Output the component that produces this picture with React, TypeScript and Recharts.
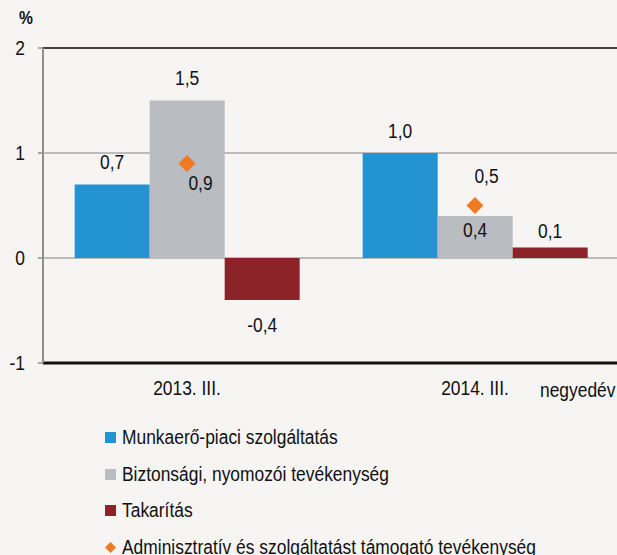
import React from 'react'
import {
  ComposedChart, Bar, Scatter, XAxis, YAxis, CartesianGrid, ReferenceLine, LabelList,
} from 'recharts'

const categories = ['2013. III.', '2014. III.']
const munkaero = [0.7, 1.0]
const biztonsagi = [1.5, 0.4]
const takaritas = [-0.4, 0.1]
const adminisztrativ = [0.9, 0.5]
const yTicks = [-1, 0, 1, 2]

const seriesNames = [
  'Munkaerő-piaci szolgáltatás',
  'Biztonsági, nyomozói tevékenység',
  'Takarítás',
  'Adminisztratív és szolgáltatást támogató tevékenység',
]

const BLUE = '#2393d2'
const GRAY = '#b9bdc1'
const RED = '#8b2328'
const ORANGE = '#f07a22'
const BG = '#f6f5f3'
const FONT = '"Liberation Sans", Arial, sans-serif'
const FS = 20
const SX = 0.87 // squeeze to imitate a narrow face

const data = categories.map((c, i) => ({
  cat: c,
  munkaero: munkaero[i],
  biztonsagi: biztonsagi[i],
  takaritas: takaritas[i],
  admin: adminisztrativ[i],
}))

const fmt = (v: number) => v.toFixed(1).replace('.', ',')

// narrow text centred vertically on y
const NText = ({ x, y, anchor = 'middle', children }: any) => (
  <text transform={`translate(${x},${y}) scale(${SX},1)`} textAnchor={anchor}
    dominantBaseline="central" fontSize={FS} fill="#111" fontFamily={FONT}>{children}</text>
)

function barLabel(kind: string) {
  return (props: any) => {
    const { x, y, width, height, value, index } = props
    const cx = x + width / 2
    const top = Math.min(y, y + height)
    const bottom = Math.max(y, y + height)
    let ty: number
    if (value < 0) ty = bottom + 25
    else if (kind === 'gray' && index === 1) ty = top + 14
    else if (kind === 'red') ty = top - 16
    else ty = top - 22
    return <NText x={cx} y={ty}>{fmt(value)}</NText>
  }
}

function scatterLabel(props: any) {
  const { x, y, value, index } = props
  const dx = index === 0 ? 18 : 16
  const dy = index === 0 ? 24 : -25
  return <NText x={x + dx} y={y + dy}>{fmt(value)}</NText>
}

const Diamond = (props: any) => {
  const { cx, cy } = props
  const r = 8.5
  return <polygon points={`${cx},${cy - r} ${cx + r},${cy} ${cx},${cy + r} ${cx - r},${cy}`} fill={ORANGE} />
}

const XTick = (props: any) => <NText x={props.x} y={props.y + 25}>{props.payload.value}</NText>
const YTick = (props: any) => <NText x={props.x} y={props.y} anchor="end">{props.payload.value}</NText>

const narrowSpan: React.CSSProperties = {
  display: 'inline-block', transform: `scaleX(${SX})`, transformOrigin: 'left center', whiteSpace: 'nowrap',
}

export default function App() {
  const colors = [BLUE, GRAY, RED, ORANGE]
  return (
    <div style={{
      position: 'absolute', left: 0, top: 0, width: 617, height: 555,
      overflow: 'hidden', background: BG, fontFamily: FONT,
    }}>
      <div style={{ position: 'absolute', left: 19, top: 8, fontSize: 18, fontWeight: 700, color: '#111' }}>
        <span style={narrowSpan}>%</span>
      </div>
      <ComposedChart width={625} height={555} data={data}
        margin={{ top: 48, right: 6, left: 0, bottom: 162 }}
        barCategoryGap="11%" barGap={0}>
        <CartesianGrid horizontal vertical={false} stroke="#a9a9a9" strokeWidth={1.5} />
        <XAxis xAxisId="cat" dataKey="cat" axisLine={false} tickLine={false} tickSize={0} tickMargin={0}
          height={30} tick={<XTick />} />
        <XAxis xAxisId="num" type="number" domain={[0, 2]} hide />
        <YAxis domain={[-1, 2]} ticks={yTicks} width={43} interval={0}
          axisLine={{ stroke: '#8f8f8f', strokeWidth: 2 }} tickLine={{ stroke: '#8f8f8f', strokeWidth: 1.5 }}
          tickSize={5} tickMargin={13} tick={<YTick />} />
        <ReferenceLine xAxisId="cat" y={2} stroke="#1a1a1a" strokeWidth={1.5} />
        <ReferenceLine xAxisId="cat" y={-1} stroke="#111" strokeWidth={3} />
        <ReferenceLine xAxisId="num" segment={[{ x: 1, y: 0 }, { x: 1, y: -0.08 }]} stroke="#8f8f8f" strokeWidth={1.5} />
        <Bar xAxisId="cat" dataKey="munkaero" fill={BLUE} isAnimationActive={false}>
          <LabelList dataKey="munkaero" content={barLabel('blue')} />
        </Bar>
        <Bar xAxisId="cat" dataKey="biztonsagi" fill={GRAY} isAnimationActive={false}>
          <LabelList dataKey="biztonsagi" content={barLabel('gray')} />
        </Bar>
        <Bar xAxisId="cat" dataKey="takaritas" fill={RED} isAnimationActive={false}>
          <LabelList dataKey="takaritas" content={barLabel('red')} />
        </Bar>
        <Scatter xAxisId="cat" dataKey="admin" fill={ORANGE} shape={Diamond} isAnimationActive={false}>
          <LabelList dataKey="admin" content={scatterLabel} />
        </Scatter>
      </ComposedChart>
      <div style={{
        position: 'absolute', left: 540, top: 390 - 12, height: 24, display: 'flex', alignItems: 'center',
        fontSize: FS, color: '#111',
      }}>
        <span style={narrowSpan}>negyedév</span>
      </div>
      {seriesNames.map((name, i) => (
        <div key={name} style={{
          position: 'absolute', left: 105, top: 437.5 + i * 36.7 - 12, height: 24,
          display: 'flex', alignItems: 'center', fontSize: FS, color: '#111', whiteSpace: 'nowrap',
        }}>
          {i < 3 ? (
            <span style={{ width: 11, height: 11, background: colors[i], marginRight: 6, display: 'inline-block' }} />
          ) : (
            <svg width={11} height={11} style={{ marginRight: 6 }}>
              <polygon points="5.5,0 11,5.5 5.5,11 0,5.5" fill={ORANGE} />
            </svg>
          )}
          <span style={narrowSpan}>{name}</span>
        </div>
      ))}
    </div>
  )
}
